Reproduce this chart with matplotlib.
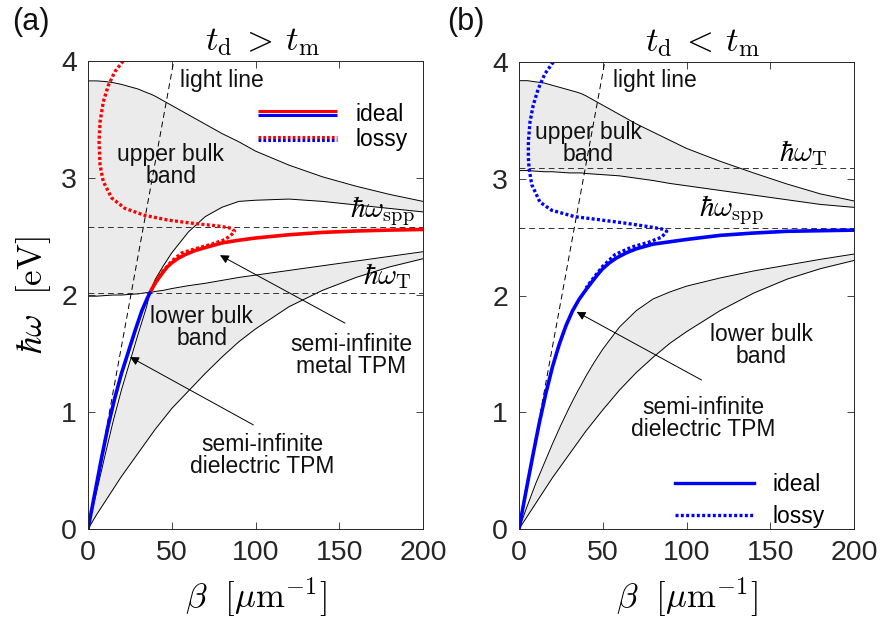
import matplotlib
matplotlib.use('Agg')
import matplotlib.pyplot as plt
import numpy as np
from matplotlib.legend_handler import HandlerBase
from matplotlib.lines import Line2D

plt.rcParams['font.family'] = ['Liberation Sans', 'DejaVu Sans']
plt.rcParams['mathtext.fontset'] = 'cm'

# common beta grid for the band edges [1/um]
beta = [0, 5, 10, 15, 20, 25, 30, 35, 37, 40, 45, 50, 60, 70, 80, 90, 100, 120, 140, 160, 180, 200]

# ---- panel (a): t_d > t_m ----
a_top = [3.83, 3.83, 3.825, 3.815, 3.80, 3.78, 3.76, 3.73, 3.72, 3.70, 3.66, 3.62, 3.54, 3.46, 3.38,
         3.31, 3.23, 3.11, 3.01, 2.93, 2.86, 2.80]
a_mid = [0, 0.31, 0.62, 0.92, 1.19, 1.43, 1.67, 1.90, 2.02, 2.13, 2.25, 2.36, 2.54, 2.67, 2.75,
         2.80, 2.81, 2.82, 2.80, 2.77, 2.74, 2.71]
a_flat = [1.99, 1.99, 1.995, 2.0, 2.0, 2.005, 2.01, 2.02, 2.02, 2.03, 2.04, 2.055, 2.08, 2.10, 2.125,
          2.15, 2.17, 2.21, 2.25, 2.29, 2.33, 2.37]
a_low = [0, 0.12, 0.23, 0.34, 0.45, 0.55, 0.65, 0.75, 0.79, 0.85, 0.94, 1.03, 1.18, 1.33, 1.47,
         1.60, 1.71, 1.90, 2.04, 2.15, 2.24, 2.31]

a_blue_beta = [0, 4, 8, 12, 16, 20, 24, 28, 32, 35, 37]
a_blue_w = [0, 0.30, 0.60, 0.88, 1.12, 1.33, 1.51, 1.69, 1.86, 1.96, 2.02]
a_red_beta = [37, 40, 44, 47, 50, 54, 58, 64, 70, 80, 90, 100, 120, 140, 160, 180, 200]
a_red_w = [2.02, 2.10, 2.18, 2.235, 2.275, 2.315, 2.345, 2.38, 2.405, 2.445, 2.468, 2.487, 2.515,
           2.535, 2.547, 2.555, 2.56]
a_lossy_beta = [21, 16.1, 12.1, 9.1, 7.2, 6.6, 7.2, 9.1, 14.1, 22.1, 34, 48, 64, 77.8, 85.8, 87.5,
                86, 82, 74, 64, 56, 50, 44, 38]
a_lossy_w = [4.0, 3.91, 3.79, 3.65, 3.48, 3.31, 3.11, 2.97, 2.83, 2.74, 2.68, 2.64, 2.61, 2.59, 2.57,
             2.545, 2.52, 2.475, 2.435, 2.395, 2.36, 2.29, 2.19, 2.05]
a_w_spp = 2.58
a_w_T = 2.02

# ---- panel (b): t_d < t_m ----
b_top = [3.84, 3.84, 3.83, 3.82, 3.80, 3.78, 3.76, 3.74, 3.73, 3.71, 3.67, 3.63, 3.55, 3.47, 3.40,
         3.33, 3.26, 3.15, 3.05, 2.955, 2.87, 2.81]
b_upper_low = [3.07, 3.07, 3.065, 3.06, 3.06, 3.055, 3.05, 3.05, 3.05, 3.045, 3.04, 3.035, 3.025,
               3.005, 2.985, 2.96, 2.94, 2.90, 2.86, 2.82, 2.78, 2.755]
b_lower_top = [0, 0.20, 0.39, 0.56, 0.73, 0.89, 1.04, 1.18, 1.23, 1.31, 1.43, 1.54, 1.73, 1.87, 1.97,
               2.03, 2.08, 2.15, 2.21, 2.26, 2.31, 2.355]
b_lower_bot = [0, 0.11, 0.22, 0.33, 0.44, 0.54, 0.64, 0.74, 0.78, 0.84, 0.93, 1.02, 1.19, 1.34, 1.47,
               1.59, 1.69, 1.87, 2.02, 2.14, 2.23, 2.30]

b_blue_beta = [0, 4, 8, 12, 16, 20, 24, 28, 32, 36, 40, 44, 47, 50, 54, 58, 64, 70, 80, 100, 120,
               140, 160, 180, 200]
b_blue_w = [0, 0.31, 0.61, 0.90, 1.16, 1.39, 1.58, 1.74, 1.87, 1.97, 2.05, 2.125, 2.18, 2.23, 2.28,
            2.32, 2.365, 2.40, 2.44, 2.48, 2.515, 2.535, 2.55, 2.555, 2.56]
b_lossy_beta = [20.5, 15.5, 11.5, 8.5, 6.6, 5.6, 5.6, 6.0, 7.6, 12.5, 19.5, 33.4, 47.4, 63.3, 77.2,
                85.2, 88.2, 85.2, 77.2, 67.3, 57.3, 50, 45, 40]
b_lossy_w = [4.0, 3.90, 3.77, 3.63, 3.49, 3.32, 3.18, 3.09, 2.95, 2.80, 2.73, 2.675, 2.65, 2.62, 2.59,
             2.57, 2.55, 2.50, 2.455, 2.415, 2.35, 2.25, 2.16, 2.065]
b_w_spp = 2.575
b_w_T = 3.09

light_beta = [0, 51.2]
light_w = [0, 4.0]

GREY = '#ebebeb'
DARK = '#262626'
DOTS = (0.9, 0.7)


class StackedLines(HandlerBase):
    # red line on top of a blue line, like the two-colour legend sample
    def __init__(self, dotted=False):
        super().__init__()
        self.dotted = dotted

    def create_artists(self, legend, orig_handle, xdescent, ydescent, width, height, fontsize, trans):
        y = height / 2 - ydescent
        arts = []
        for col, dy in (('red', 1.3), ('blue', -1.3)):
            ln = Line2D([-xdescent, width - xdescent], [y + dy, y + dy], color=col, lw=2.2,
                        solid_capstyle='butt', dash_capstyle='butt')
            if self.dotted:
                ln.set_dashes(DOTS)
            ln.set_transform(trans)
            arts.append(ln)
        return arts


def style_axes(ax):
    ax.set_xlim(0, 200)
    ax.set_ylim(0, 4)
    ax.set_xticks([0, 50, 100, 150, 200])
    ax.set_yticks([0, 1, 2, 3, 4])
    ax.tick_params(direction='in', length=5, width=0.6, top=True, right=True,
                   labelsize=20.5, colors=DARK, pad=8)
    for s in ax.spines.values():
        s.set_color(DARK)
        s.set_linewidth(0.7)
    ax.set_xlabel(r'$\beta\ \ [\mu\mathrm{m}^{-1}]$', fontsize=25)
    ax.xaxis.set_label_coords(0.5, -0.1)


def hline(ax, w):
    ax.axhline(w, color='#333333', lw=0.7, dashes=(6, 4))


fig = plt.figure(figsize=(8.8, 6.21), dpi=100)
ax1 = fig.add_axes([88 / 880, 1 - 529 / 621, 335 / 880, 468 / 621])
ax2 = fig.add_axes([519 / 880, 1 - 529 / 621, 335 / 880, 467 / 621])

b = np.array(beta)

# ---------- (a) ----------
ax = ax1
ax.fill_between(b, a_top, np.maximum(a_mid, a_flat), color=GREY, lw=0)
ax.fill_between(b, a_low, np.minimum(a_mid, a_flat), color=GREY, lw=0)
for curve in (a_top, a_mid, a_flat, a_low):
    ax.plot(b, curve, color='black', lw=0.7)
hline(ax, a_w_spp)
hline(ax, a_w_T)
ax.plot(light_beta, light_w, color='black', lw=0.7, dashes=(6, 4))
ax.plot(a_lossy_beta, a_lossy_w, color='red', lw=2.4, dashes=DOTS, dash_capstyle='butt')
ax.plot(a_red_beta, a_red_w, color='red', lw=2.6, solid_capstyle='round')
ax.plot(a_blue_beta, a_blue_w, color='blue', lw=2.6, solid_capstyle='round')

txt = dict(fontsize=16.5, ha='center', va='center', linespacing=0.95, color='#111111')
ax.text(80, 3.83, 'light line', **txt)
ax.text(49.3, 3.11, 'upper bulk\nband', **txt)
ax.text(68, 1.72, 'lower bulk\nband', **txt)
ax.text(157, 1.48, 'semi-infinite\nmetal TPM', **txt)
ax.text(104, 0.63, 'semi-infinite\ndielectric TPM', **txt)
ax.text(175.5, 2.72, r'$\hbar\omega_\mathrm{spp}$', fontsize=21, ha='center', va='center')
ax.text(178.5, 2.16, r'$\hbar\omega_\mathrm{T}$', fontsize=21, ha='center', va='center')
arrow = dict(arrowstyle='-|>', color='black', lw=0.7, mutation_scale=13, shrinkA=0, shrinkB=0)
ax.annotate('', xy=(78.8, 2.34), xytext=(153.4, 1.76), arrowprops=arrow)
ax.annotate('', xy=(25.1, 1.47), xytext=(98.7, 0.89), arrowprops=arrow)

ax.set_title(r'$t_\mathrm{d}\:>\:t_\mathrm{m}$', fontsize=25, x=0.522, pad=8)
ax.set_ylabel(r'$\hbar\omega\ \ [\mathrm{eV}]$', fontsize=25)
ax.yaxis.set_label_coords(-0.105, 0.5)
style_axes(ax)

h_ideal = Line2D([], [])
h_lossy = Line2D([], [])
ax.legend([h_ideal, h_lossy], ['ideal', 'lossy'],
          handler_map={h_ideal: StackedLines(False), h_lossy: StackedLines(True)},
          loc='upper left', bbox_to_anchor=(0.507, 0.91), frameon=False, fontsize=16.5,
          handlelength=3.45, handletextpad=0.8, labelspacing=0.1, borderpad=0, borderaxespad=0)

# ---------- (b) ----------
ax = ax2
ax.fill_between(b, b_top, b_upper_low, color=GREY, lw=0)
ax.fill_between(b, b_lower_bot, b_lower_top, color=GREY, lw=0)
for curve in (b_top, b_upper_low, b_lower_top, b_lower_bot):
    ax.plot(b, curve, color='black', lw=0.7)
hline(ax, b_w_spp)
hline(ax, b_w_T)
ax.plot(light_beta, light_w, color='black', lw=0.7, dashes=(6, 4))
ax.plot(b_lossy_beta, b_lossy_w, color='blue', lw=2.4, dashes=DOTS, dash_capstyle='butt')
ax.plot(b_blue_beta, b_blue_w, color='blue', lw=2.6, solid_capstyle='round')

ax.text(81.2, 3.84, 'light line', **txt)
ax.text(41.5, 3.30, 'upper bulk\nband', **txt)
ax.text(144.5, 1.57, 'lower bulk\nband', **txt)
ax.text(110, 0.95, 'semi-infinite\ndielectric TPM', **txt)
ax.text(170, 3.22, r'$\hbar\omega_\mathrm{T}$', fontsize=21, ha='center', va='center')
ax.text(126.6, 2.73, r'$\hbar\omega_\mathrm{spp}$', fontsize=21, ha='center', va='center')
ax.annotate('', xy=(34.4, 1.86), xytext=(109, 1.276), arrowprops=arrow)

ax.set_title(r'$t_\mathrm{d}\:<\:t_\mathrm{m}$', fontsize=25, x=0.548, pad=8)
style_axes(ax)

lb = [Line2D([], [], color='blue', lw=2.4),
      Line2D([], [], color='blue', lw=2.4, dashes=DOTS, dash_capstyle='butt')]
ax.legend(lb, ['ideal', 'lossy'], loc='upper left', bbox_to_anchor=(0.466, 0.12),
          frameon=False, fontsize=16.5, handlelength=3.45, handletextpad=0.8,
          labelspacing=0.38, borderpad=0, borderaxespad=0)

fig.text(12 / 880, 1 - 7 / 621, '(a)', fontsize=22, va='top', ha='left', color='#111111')
fig.text(447 / 880, 1 - 7 / 621, '(b)', fontsize=22, va='top', ha='left', color='#111111')

fig.savefig('out.png', dpi=100)
